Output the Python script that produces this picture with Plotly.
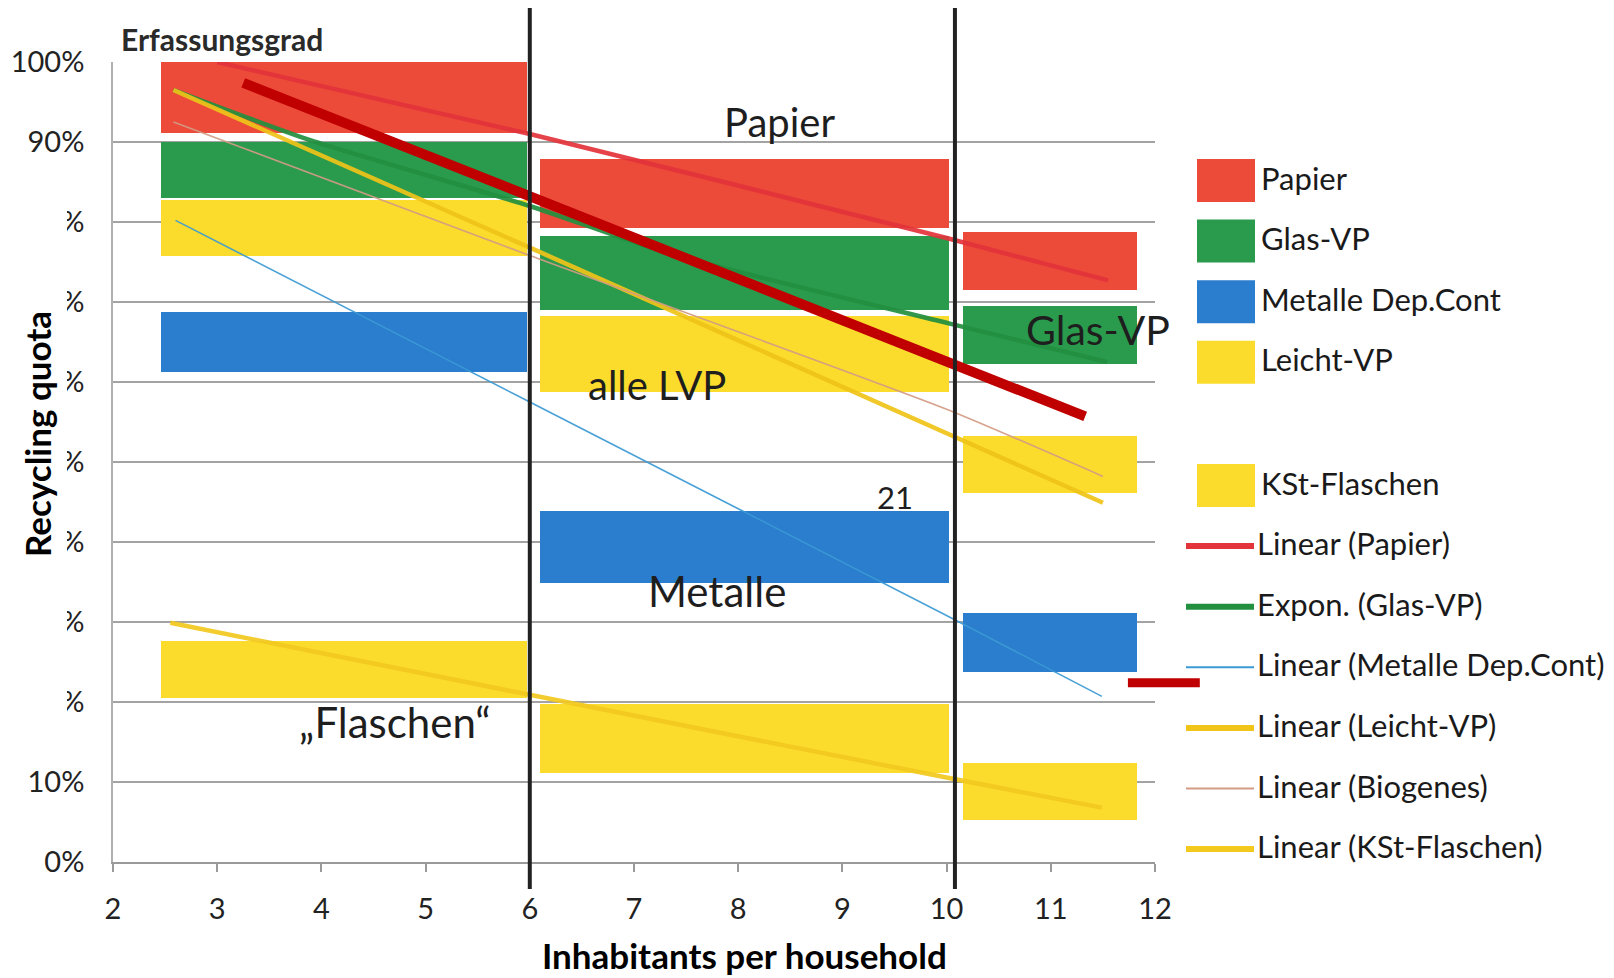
import plotly.graph_objects as go

# ---------------- data ----------------
# household-size groups (x extent of the floating bars)
group_x_lo = [2.46, 6.10, 10.16]
group_x_hi = [5.97, 10.02, 11.83]

bar_series = ["Papier", "Glas-VP", "Metalle Dep.Cont", "Leicht-VP", "KSt-Flaschen"]
papier_lo = [91.1, 79.2, 71.5]
papier_hi = [100.0, 87.9, 78.7]
glas_lo = [83.0, 69.0, 62.3]
glas_hi = [90.0, 78.2, 69.5]
metalle_lo = [61.3, 34.9, 23.8]
metalle_hi = [68.7, 43.9, 31.1]
leicht_lo = [75.7, 58.8, 46.1]
leicht_hi = [82.8, 68.2, 53.3]
kst_lo = [20.5, 11.1, 5.3]
kst_hi = [27.6, 19.8, 12.4]

# trend lines
trend_names = ["Linear (Papier)", "Expon. (Glas-VP)", "Linear (Metalle Dep.Cont)",
               "Linear (Leicht-VP)", "Linear (Biogenes)", "Linear (KSt-Flaschen)"]
papier_trend_x = [3.0, 6.0, 10.0, 11.55]
papier_trend_y = [100.0, 91.0, 78.0, 72.7]
glas_trend_x = [2.58, 3.9, 6.0, 7.35, 10.03, 11.54]
glas_trend_y = [96.5, 90.2, 82.0, 76.0, 67.3, 62.5]
metalle_trend_x = [2.6, 6.0, 10.06, 11.49]
metalle_trend_y = [80.2, 57.5, 30.4, 20.7]
leicht_trend_x = [2.58, 6.0, 10.0, 11.5]
leicht_trend_y = [96.5, 76.8, 53.6, 44.9]
biogenes_trend_x = [2.58, 6.0, 10.0, 11.5]
biogenes_trend_y = [92.5, 75.8, 56.6, 48.2]
kst_trend_x = [2.55, 6.0, 10.06, 11.49]
kst_trend_y = [29.9, 20.9, 10.4, 6.8]

# hand-drawn overlay (thick dark red line) and short red dash
overlay_x = [3.25, 11.33]
overlay_y = [97.4, 55.7]
dash_x = [11.74, 12.43]
dash_y = 22.4

# vertical separators between household groups
divider_x = [6.0, 10.08]

# text labels inside the chart
label_text = ["Papier", "alle LVP", "Glas-VP", "Metalle", "\u201eFlaschen\u201c", "21"]
label_x = [8.40, 7.22, 11.45, 7.80, 4.70, 9.50]
label_y = [92.5, 59.6, 66.6, 33.9, 17.5, 45.6]
label_size = [40, 40, 41, 42, 42, 31]

y_ticks = [0, 10, 20, 30, 40, 50, 60, 70, 80, 90, 100]
x_ticks = [2, 3, 4, 5, 6, 7, 8, 9, 10, 11, 12]

# ---------------- styling ----------------
FONT = "Lato"
RED, GREEN, BLUE, YELLOW = "#EC4B3A", "#2A9B4D", "#2B7DCD", "#FBDC2D"
bar_colors = [RED, GREEN, BLUE, YELLOW, YELLOW]
trend_colors = ["#E3333B", "#22903F", "#3B9AD4", "#F0C419", "#D39C84", "#F3C91E"]
trend_widths = [4.5, 4.5, 1.6, 4.5, 1.6, 4.5]

W, H = 1614, 978
ML, MR, MT, MB = 113, 459, 62, 116
PW, PH = W - ML - MR, H - MT - MB
XR = [2, 12]
YR = [0, 100]


def px_x(px):
    return (px - ML) / PW


def px_y(py):
    return (H - MB - py) / PH


def data_to_paper_x(v):
    return (v - XR[0]) / (XR[1] - XR[0])


def data_to_paper_y(v):
    return (v - YR[0]) / (YR[1] - YR[0])


fig = go.Figure()

centers = [(a + b) / 2 for a, b in zip(group_x_lo, group_x_hi)]
widths = [b - a for a, b in zip(group_x_lo, group_x_hi)]
los = [papier_lo, glas_lo, metalle_lo, leicht_lo, kst_lo]
his = [papier_hi, glas_hi, metalle_hi, leicht_hi, kst_hi]
for name, lo, hi, col in zip(bar_series, los, his, bar_colors):
    fig.add_trace(go.Bar(
        x=centers, y=[h - l for l, h in zip(lo, hi)], base=lo, width=widths,
        name=name, marker=dict(color=col, line=dict(width=0)), showlegend=False))

trend_xs = [papier_trend_x, glas_trend_x, metalle_trend_x, leicht_trend_x, biogenes_trend_x, kst_trend_x]
trend_ys = [papier_trend_y, glas_trend_y, metalle_trend_y, leicht_trend_y, biogenes_trend_y, kst_trend_y]
for name, tx, ty, col, w in zip(trend_names, trend_xs, trend_ys, trend_colors, trend_widths):
    fig.add_trace(go.Scatter(x=tx, y=ty, mode="lines", name=name,
                             line=dict(color=col, width=w, shape="spline", smoothing=0.6),
                             opacity=0.92, showlegend=False))

fig.add_trace(go.Scatter(x=overlay_x, y=overlay_y, mode="lines",
                         line=dict(color="#C00000", width=10), showlegend=False))

shapes = []
for dx in divider_x:
    shapes.append(dict(type="line", xref="paper", yref="paper",
                       x0=data_to_paper_x(dx), x1=data_to_paper_x(dx),
                       y0=px_y(889), y1=px_y(8), line=dict(color="#222222", width=4),
                       layer="above"))
shapes.append(dict(type="line", xref="paper", yref="paper",
                   x0=data_to_paper_x(dash_x[0]), x1=data_to_paper_x(dash_x[1]),
                   y0=data_to_paper_y(dash_y), y1=data_to_paper_y(dash_y),
                   line=dict(color="#C00000", width=9), layer="above"))
# scan artefact: the y-axis title panel hides the digits of the middle tick labels
shapes.append(dict(type="rect", xref="paper", yref="paper",
                   x0=px_x(0), x1=px_x(67), y0=px_y(722), y1=px_y(196),
                   fillcolor="white", line=dict(width=0), layer="above"))

annotations = []
for t, x, y, s in zip(label_text, label_x, label_y, label_size):
    annotations.append(dict(x=x, y=y, xref="x", yref="y", text=t, showarrow=False,
                            font=dict(family=FONT, size=s, color="#1e1e1e"),
                            xanchor="center", yanchor="middle"))

annotations.append(dict(x=px_x(119), y=px_y(39), xref="paper", yref="paper",
                        text="<b>Erfassungsgrad</b>", showarrow=False,
                        font=dict(family=FONT, size=30, color="#2a2a2a"),
                        xanchor="left", yanchor="middle"))
annotations.append(dict(x=px_x(37), y=px_y(434), xref="paper", yref="paper",
                        text="<b>Recycling quota</b>", textangle=-90, showarrow=False,
                        font=dict(family=FONT, size=35, color="#000000"),
                        xanchor="center", yanchor="middle"))
annotations.append(dict(x=px_x(744), y=px_y(955), xref="paper", yref="paper",
                        text="<b>Inhabitants per household</b>", showarrow=False,
                        font=dict(family=FONT, size=35, color="#000000"),
                        xanchor="center", yanchor="middle"))

# ---- legend (drawn manually to match the large symbols) ----
legend_entries = bar_series[:4] + [None] + bar_series[4:] + trend_names
legend_kinds = ["box"] * 4 + [None] + ["box"] + ["line"] * 6
legend_cols = bar_colors[:4] + [None] + bar_colors[4:] + trend_colors
legend_lw = [0] * 6 + [6, 6, 2, 6, 2, 6]
row0, step = 180.5, 60.6
for i, (name, kind, col, lw) in enumerate(zip(legend_entries, legend_kinds, legend_cols, legend_lw)):
    if name is None:
        continue
    cy = row0 + step * i + (2 if i >= 5 else 0)
    if kind == "box":
        shapes.append(dict(type="rect", xref="paper", yref="paper",
                           x0=px_x(1197), x1=px_x(1255), y0=px_y(cy + 21.5), y1=px_y(cy - 21.5),
                           fillcolor=col, line=dict(width=0)))
        tx = 1259
    else:
        shapes.append(dict(type="line", xref="paper", yref="paper",
                           x0=px_x(1186), x1=px_x(1254), y0=px_y(cy), y1=px_y(cy),
                           line=dict(color=col, width=lw)))
        tx = 1255
    annotations.append(dict(x=px_x(tx), y=px_y(cy - 3), xref="paper", yref="paper",
                            text=name, showarrow=False,
                            font=dict(family=FONT, size=31, color="#1a1a1a"),
                            xanchor="left", yanchor="middle"))

fig.update_layout(
    width=W, height=H,
    margin=dict(l=ML, r=MR, t=MT, b=MB, pad=0, autoexpand=False),
    paper_bgcolor="white", plot_bgcolor="white",
    barmode="overlay", bargap=0,
    shapes=shapes, annotations=annotations,
    showlegend=False,
    font=dict(family=FONT, color="#1a1a1a"),
    xaxis=dict(range=XR, tickvals=x_ticks, ticktext=[str(v) for v in x_ticks],
               automargin=False,
               showgrid=False, zeroline=False, showline=True, linecolor="#9a9a9a", linewidth=2,
               ticks="outside", ticklen=8, tickcolor="#9a9a9a", tickwidth=1.5,
               ticklabelstandoff=12,
               tickfont=dict(family=FONT, size=29, color="#222222")),
    yaxis=dict(range=YR, tickvals=y_ticks, ticktext=[f"{v}%" for v in y_ticks],
               automargin=False,
               showgrid=True, gridcolor="#a3a3a3", gridwidth=2, zeroline=False,
               showline=True, linecolor="#b0b0b0", linewidth=1.5,
               ticks="", ticklabelstandoff=21,
               tickfont=dict(family=FONT, size=29, color="#222222")),
)

fig.write_html(
    "out.html",
    config={"displayModeBar": False},
    post_script="document.body.style.margin='0';document.body.style.overflow='hidden';",
)
